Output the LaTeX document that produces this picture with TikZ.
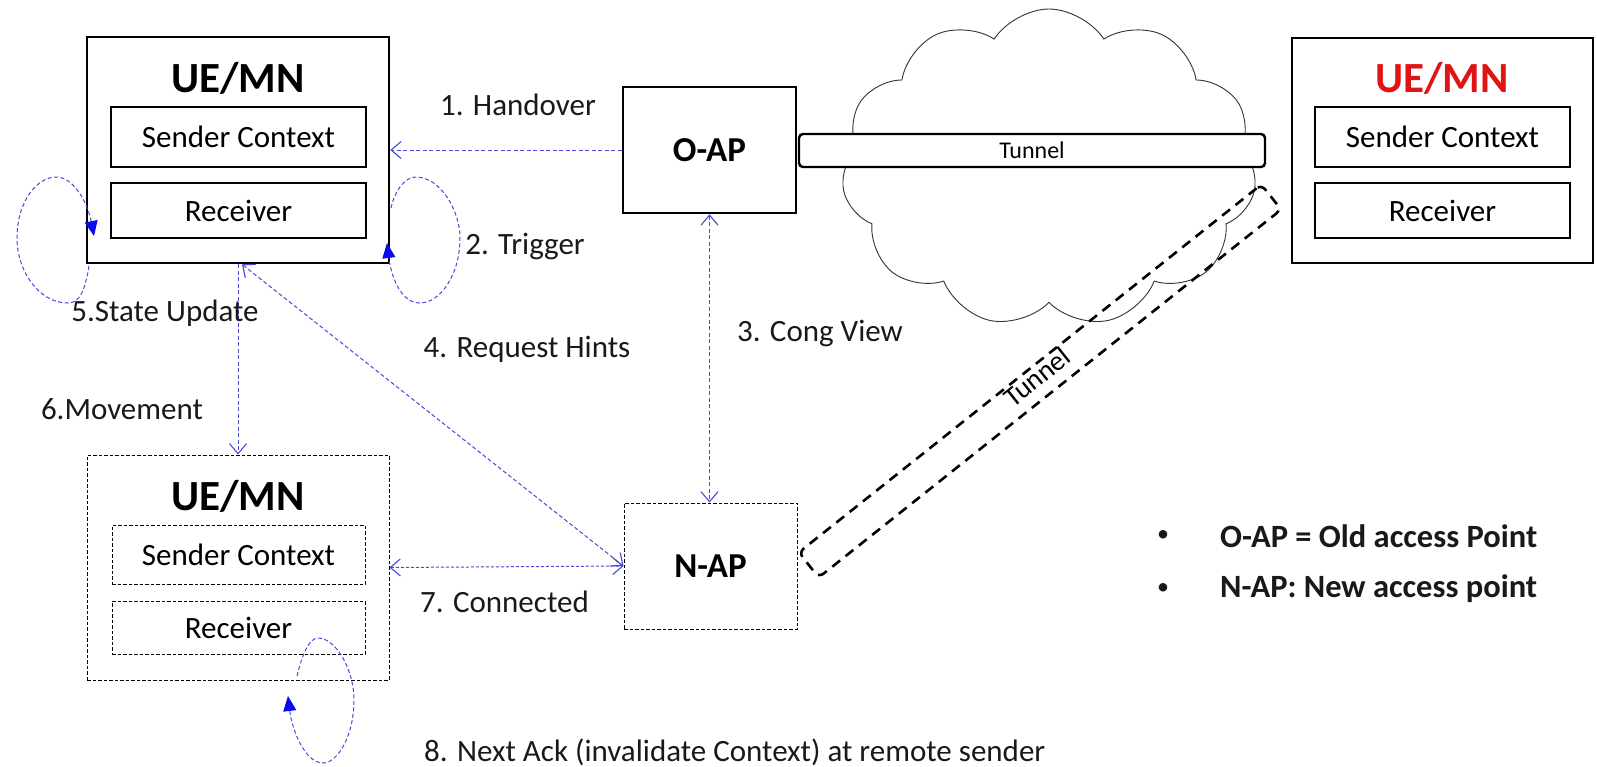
\documentclass[tikz,border=0pt]{standalone}
\usepackage{fontspec}
\setmainfont{Carlito}
\usetikzlibrary{arrows.meta,shapes.symbols}

\definecolor{linkblue}{RGB}{72,72,218}
\definecolor{tipblue}{RGB}{10,10,235}
\definecolor{titlered}{RGB}{225,20,20}
\definecolor{inkgray}{RGB}{25,25,25}

\newcommand{\lblfont}{\fontsize{31}{36}\selectfont}
\newcommand{\ttlfont}{\fontsize{43}{48}\selectfont\bfseries}

\tikzset{
  uebox/.style={draw, line width=2.6pt, minimum width=302pt, minimum height=226pt, inner sep=0pt},
  partbox/.style={draw, line width=2.4pt, minimum width=255pt, inner sep=0pt, font=\lblfont},
  ghostbox/.style={draw, line width=1pt, dash pattern=on 3.5pt off 2pt, inner sep=0pt},
  apbox/.style={minimum width=173pt, minimum height=126pt, inner sep=0pt, font=\fontsize{35}{40}\selectfont\bfseries},
  link/.style={linkblue, line width=1pt, dash pattern=on 4pt off 2.5pt},
  vtip/.tip={Straight Barb[length=10pt, width=17pt, line width=1.1pt]},
  looptip/.tip={Triangle[length=15pt, width=13pt, color=tipblue]},
  lbl/.style={font=\lblfont, text=inkgray, inner sep=0pt},
  legend/.style={font=\fontsize{32.5}{36}\selectfont\bfseries, text=inkgray, inner sep=0pt, anchor=west},
  bullet/.style={font=\fontsize{24}{28}\selectfont, text=inkgray, inner sep=0pt}
}

\begin{document}
\begin{tikzpicture}[x=1pt, y=-1pt]
\useasboundingbox (0,0) rectangle (1597,766);

% ---------- network cloud and tunnels ----------
\node[cloud, draw=black!80, line width=0.9pt, cloud puffs=11, cloud puff arc=115,
      aspect=1.32, minimum width=415pt, minimum height=318pt, inner sep=0pt]
      (net) at (1049,168) {};
\node[draw, fill=white, line width=2.4pt, rounded corners=4pt, minimum width=466pt,
      minimum height=33pt, inner sep=0pt, font=\fontsize{24}{28}\selectfont]
      (tun) at (1032,150.5) {Tunnel};
\node[draw, line width=2.6pt, dash pattern=on 10pt off 7pt, rounded corners=6pt,
      minimum width=591pt, minimum height=32pt, inner sep=0pt, rotate=38.5]
      (tun2) at (1040,381) {};
\node[font=\fontsize{28}{32}\selectfont, rotate=38.5, inner sep=0pt]
      (tun2t) at ([shift={(-3,-4)}]tun2.center) {Tunnel};

% ---------- UE/MN before handover ----------
\node[uebox] (ue1) at (238,150) {};
\node[font=\ttlfont, inner sep=0pt] (ue1t) at (238,78) {UE/MN};
\node[partbox, minimum height=60pt] (ue1s) at (238.5,137) {Sender Context};
\node[partbox, minimum height=55pt] (ue1r) at (238.5,210.5) {Receiver};

% ---------- remote UE/MN ----------
\node[uebox, minimum width=301pt, minimum height=225pt] (ue2) at (1442.5,150.5) {};
\node[font=\ttlfont, text=titlered, inner sep=0pt] (ue2t) at (1442,78) {UE/MN};
\node[partbox, minimum height=60pt] (ue2s) at (1442.5,137) {Sender Context};
\node[partbox, minimum height=55pt] (ue2r) at (1442.5,210.5) {Receiver};

% ---------- UE/MN after movement ----------
\node[ghostbox, minimum width=302pt, minimum height=225pt] (ue3) at (238,567.5) {};
\node[font=\ttlfont, inner sep=0pt] (ue3t) at (238,496) {UE/MN};
\node[ghostbox, minimum width=253pt, minimum height=59pt, font=\lblfont] (ue3s) at (238.5,554.5) {Sender Context};
\node[ghostbox, minimum width=253pt, minimum height=53pt, font=\lblfont] (ue3r) at (238.5,627.5) {Receiver};

% ---------- access points ----------
\node[apbox, draw, line width=2.6pt] (oap) at (709.5,150) {O-AP};
\node[apbox, ghostbox] (nap) at (710.5,566) {N-AP};

% ---------- signalling ----------
\draw[link, -vtip] (oap.west) -- (ue1.east);
\draw[link, vtip-vtip] (oap.south) -- (oap.south |- nap.north);
\draw[link, vtip-vtip] ([xshift=4pt]ue1.south) -- (nap.west);
\draw[link, -vtip] (ue1.south) -- (ue3.north);
\draw[link, vtip-vtip, dash pattern=on 3pt off 2pt] (ue3.east) -- (nap.west);

% self loops
\coordinate (l5a) at (89,266);
\coordinate (l5b) at (94,236);
\draw[link, -looptip] (l5a) .. controls (85,290) and (80,303) .. (68,303)
   .. controls (38,303) and (17,270) .. (17,238)
   .. controls (17,200) and (38,177) .. (56,177)
   .. controls (75,177) and (88,205) .. (l5b);

\coordinate (l2a) at (391,208);
\coordinate (l2b) at (387,243);
\draw[link, -looptip] (l2a) .. controls (395,190) and (405,177) .. (416,177)
   .. controls (440,177) and (460,210) .. (460,238)
   .. controls (460,275) and (440,303) .. (420,303)
   .. controls (400,303) and (391,275) .. (l2b);

\coordinate (l8a) at (297,676);
\coordinate (l8b) at (288,696);
\draw[link, -looptip] (l8a) .. controls (302,655) and (309,638) .. (318,638)
   .. controls (336,638) and (354,670) .. (354,700)
   .. controls (354,735) and (338,763) .. (323,763)
   .. controls (305,763) and (292,730) .. (l8b);

% ---------- labels ----------
\node[lbl] (t1) at (518,105) {1. Handover};
\node[lbl] (t2) at (525,246) {2. Trigger};
\node[lbl] (t3) at (820,333) {3. Cong View};
\node[lbl] (t4) at (527,349) {4. Request Hints};
\node[lbl] (t5) at (165,313) {5.State Update};
\node[lbl] (t6) at (122,409) {6.Movement};
\node[lbl] (t7) at (504.5,602) {7. Connected};
\node[lbl, anchor=west] (t8) at (424,752) {8. Next Ack (invalidate Context) at remote sender};

% ---------- legend ----------
\node[bullet] (b1) at (1163,536) {•};
\node[legend] (k1) at (1220,536) {O-AP = Old access Point};
\node[bullet] (b2) at (1163,589) {•};
\node[legend] (k2) at (1220,589) {N-AP: New access point};
\end{tikzpicture}
\end{document}
